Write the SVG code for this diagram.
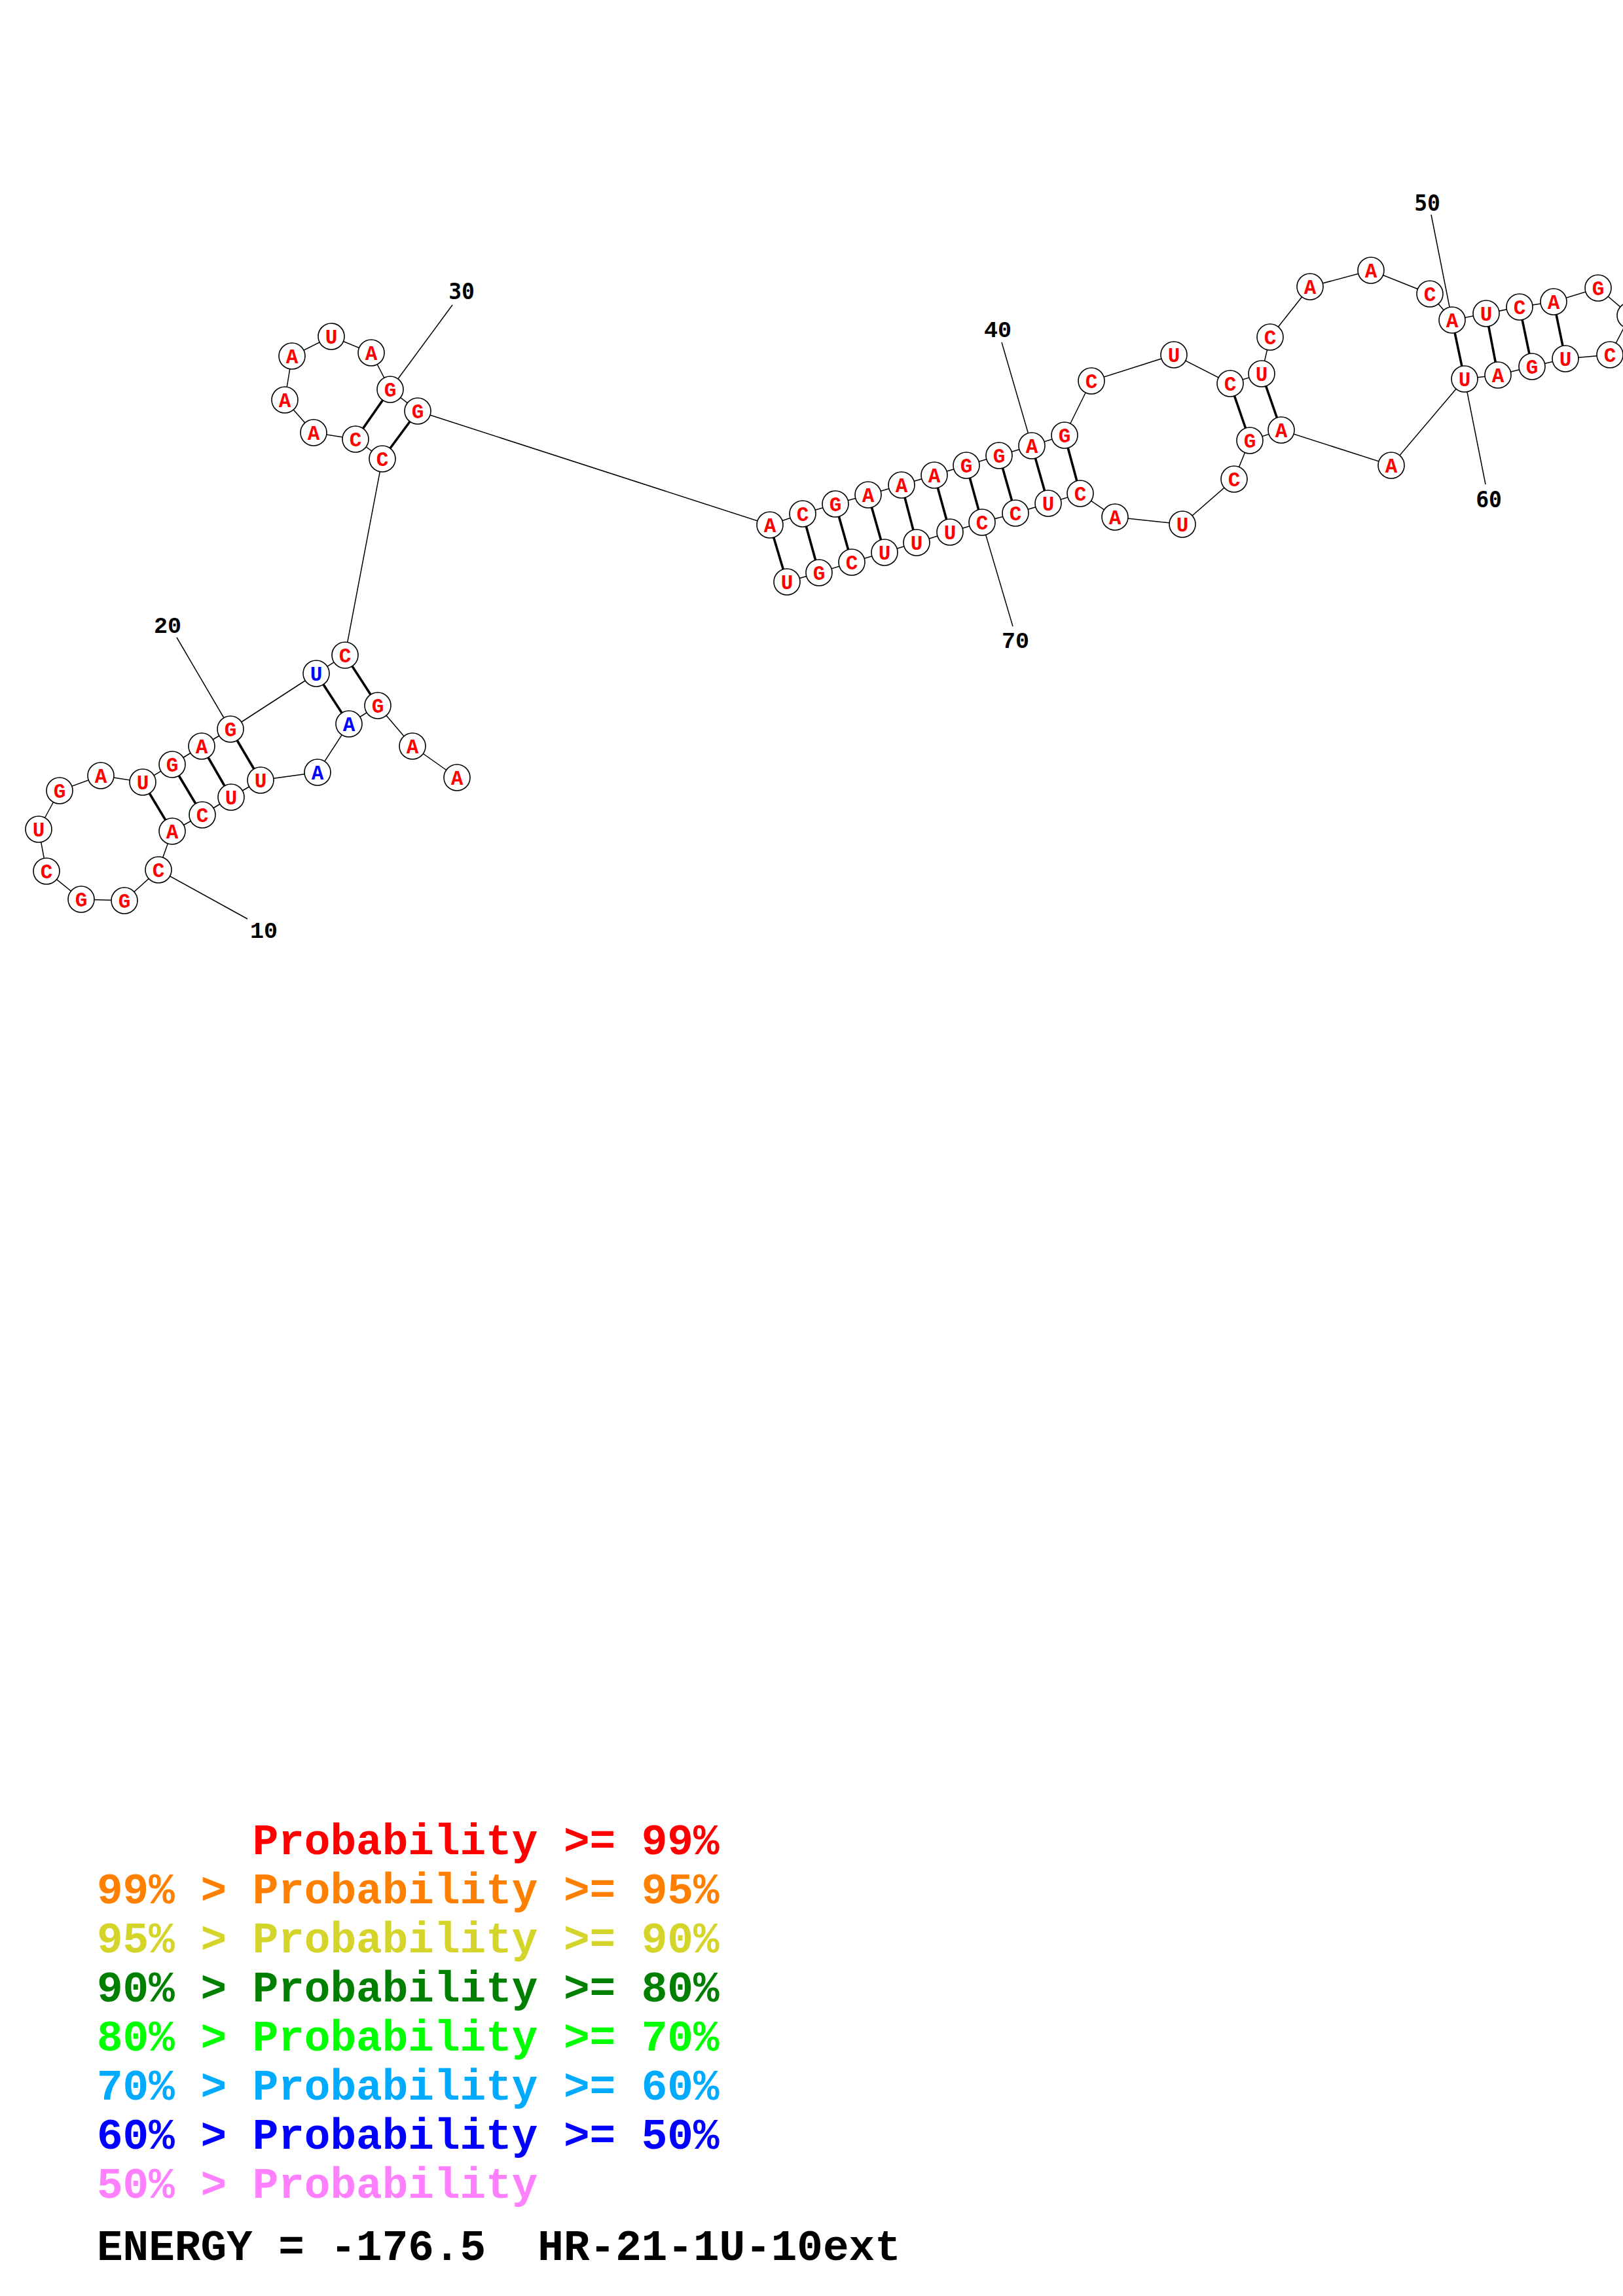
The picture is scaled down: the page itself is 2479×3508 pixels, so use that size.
<svg xmlns="http://www.w3.org/2000/svg" width="2479" height="3508" viewBox="0 0 2479 3508">
<style>
.bb{stroke:#000;stroke-width:1.5;fill:none}
.bp{stroke:#000;stroke-width:3.6;fill:none}
.tk{stroke:#000;stroke-width:1.5;fill:none}
circle{fill:#fff;stroke:#000;stroke-width:1.6}
.nl{font-family:"Liberation Mono",monospace;font-weight:bold;font-size:31px;text-anchor:middle;fill:#f00}
.bl{fill:#00f}
.num{font-family:"Liberation Mono",monospace;font-weight:bold;font-size:35px;text-anchor:middle;fill:#000}
.num2{font-family:"DejaVu Sans Mono",monospace;font-weight:bold;font-size:33px;text-anchor:middle;fill:#000}
.lg{font-family:"Liberation Mono",monospace;font-weight:bold;font-size:66px}
</style>
<rect width="2479" height="3508" fill="#fff"/>
<g id="connectors">
<polyline class="bb" points="698,1188 630,1140 577,1078 533,1106 485,1180 398,1192 353,1218 309,1245 263,1270 242,1329 190,1376 124,1374 71,1331 59,1267 91,1208 154,1185 218,1195 263,1168 308,1140 352,1114 483,1029 527,1001 584,701 543,671 479,661 435,611 446,544 506,514 567,539 596,595 638,628 1176,802 1226,785 1276,770 1326,756 1377,741 1427,726 1476,711 1526,696 1576,681 1626,665 1667,582 1793,542 1879,586 1927,571 1940,515 2001,438 2094,413 2184,449 2218,489 2270,479 2321,469 2373,461 2441,440 2490,482 2459,542 2391,548 2340,560 2288,573 2237,579 2125,711 1957,657 1909,673 1885,732 1806,801 1703,790 1650,754 1601,769 1551,784 1500,798 1451,813 1400,829 1351,844 1301,859 1251,875 1202,889"/>
<g class="bp">
<line x1="398" y1="1192" x2="352" y2="1114"/>
<line x1="353" y1="1218" x2="308" y2="1140"/>
<line x1="309" y1="1245" x2="263" y2="1168"/>
<line x1="263" y1="1270" x2="218" y2="1195"/>
<line x1="577" y1="1078" x2="527" y2="1001"/>
<line x1="533" y1="1106" x2="483" y2="1029"/>
<line x1="584" y1="701" x2="638" y2="628"/>
<line x1="543" y1="671" x2="596" y2="595"/>
<line x1="1176" y1="802" x2="1202" y2="889"/>
<line x1="1226" y1="785" x2="1251" y2="875"/>
<line x1="1276" y1="770" x2="1301" y2="859"/>
<line x1="1326" y1="756" x2="1351" y2="844"/>
<line x1="1377" y1="741" x2="1400" y2="829"/>
<line x1="1427" y1="726" x2="1451" y2="813"/>
<line x1="1476" y1="711" x2="1500" y2="798"/>
<line x1="1526" y1="696" x2="1551" y2="784"/>
<line x1="1576" y1="681" x2="1601" y2="769"/>
<line x1="1626" y1="665" x2="1650" y2="754"/>
<line x1="1879" y1="586" x2="1909" y2="673"/>
<line x1="1927" y1="571" x2="1957" y2="657"/>
<line x1="2218" y1="489" x2="2237" y2="579"/>
<line x1="2270" y1="479" x2="2288" y2="573"/>
<line x1="2321" y1="469" x2="2340" y2="560"/>
<line x1="2373" y1="461" x2="2391" y2="548"/>
</g>
<g class="tk">
<line x1="242" y1="1329" x2="378" y2="1404"/>
<line x1="352" y1="1114" x2="270" y2="974"/>
<line x1="596" y1="595" x2="691" y2="466"/>
<line x1="1576" y1="681" x2="1530" y2="523"/>
<line x1="2218" y1="489" x2="2186" y2="328"/>
<line x1="2237" y1="579" x2="2269" y2="740"/>
<line x1="1500" y1="798" x2="1547" y2="957"/>
</g>
</g>
<g id="n1"><circle cx="698" cy="1188" r="20"/><text class="nl" x="698" y="1199">A</text></g>
<g id="n2"><circle cx="630" cy="1140" r="20"/><text class="nl" x="630" y="1151">A</text></g>
<g id="n3"><circle cx="577" cy="1078" r="20"/><text class="nl" x="577" y="1089">G</text></g>
<g id="n4"><circle cx="533" cy="1106" r="20"/><text class="nl bl" x="533" y="1117">A</text></g>
<g id="n5"><circle cx="485" cy="1180" r="20"/><text class="nl bl" x="485" y="1191">A</text></g>
<g id="n6"><circle cx="398" cy="1192" r="20"/><text class="nl" x="398" y="1203">U</text></g>
<g id="n7"><circle cx="353" cy="1218" r="20"/><text class="nl" x="353" y="1229">U</text></g>
<g id="n8"><circle cx="309" cy="1245" r="20"/><text class="nl" x="309" y="1256">C</text></g>
<g id="n9"><circle cx="263" cy="1270" r="20"/><text class="nl" x="263" y="1281">A</text></g>
<g id="n10"><circle cx="242" cy="1329" r="20"/><text class="nl" x="242" y="1340">C</text></g>
<g id="n11"><circle cx="190" cy="1376" r="20"/><text class="nl" x="190" y="1387">G</text></g>
<g id="n12"><circle cx="124" cy="1374" r="20"/><text class="nl" x="124" y="1385">G</text></g>
<g id="n13"><circle cx="71" cy="1331" r="20"/><text class="nl" x="71" y="1342">C</text></g>
<g id="n14"><circle cx="59" cy="1267" r="20"/><text class="nl" x="59" y="1278">U</text></g>
<g id="n15"><circle cx="91" cy="1208" r="20"/><text class="nl" x="91" y="1219">G</text></g>
<g id="n16"><circle cx="154" cy="1185" r="20"/><text class="nl" x="154" y="1196">A</text></g>
<g id="n17"><circle cx="218" cy="1195" r="20"/><text class="nl" x="218" y="1206">U</text></g>
<g id="n18"><circle cx="263" cy="1168" r="20"/><text class="nl" x="263" y="1179">G</text></g>
<g id="n19"><circle cx="308" cy="1140" r="20"/><text class="nl" x="308" y="1151">A</text></g>
<g id="n20"><circle cx="352" cy="1114" r="20"/><text class="nl" x="352" y="1125">G</text></g>
<g id="n21"><circle cx="483" cy="1029" r="20"/><text class="nl bl" x="483" y="1040">U</text></g>
<g id="n22"><circle cx="527" cy="1001" r="20"/><text class="nl" x="527" y="1012">C</text></g>
<g id="n23"><circle cx="584" cy="701" r="20"/><text class="nl" x="584" y="712">C</text></g>
<g id="n24"><circle cx="543" cy="671" r="20"/><text class="nl" x="543" y="682">C</text></g>
<g id="n25"><circle cx="479" cy="661" r="20"/><text class="nl" x="479" y="672">A</text></g>
<g id="n26"><circle cx="435" cy="611" r="20"/><text class="nl" x="435" y="622">A</text></g>
<g id="n27"><circle cx="446" cy="544" r="20"/><text class="nl" x="446" y="555">A</text></g>
<g id="n28"><circle cx="506" cy="514" r="20"/><text class="nl" x="506" y="525">U</text></g>
<g id="n29"><circle cx="567" cy="539" r="20"/><text class="nl" x="567" y="550">A</text></g>
<g id="n30"><circle cx="596" cy="595" r="20"/><text class="nl" x="596" y="606">G</text></g>
<g id="n31"><circle cx="638" cy="628" r="20"/><text class="nl" x="638" y="639">G</text></g>
<g id="n32"><circle cx="1176" cy="802" r="20"/><text class="nl" x="1176" y="813">A</text></g>
<g id="n33"><circle cx="1226" cy="785" r="20"/><text class="nl" x="1226" y="796">C</text></g>
<g id="n34"><circle cx="1276" cy="770" r="20"/><text class="nl" x="1276" y="781">G</text></g>
<g id="n35"><circle cx="1326" cy="756" r="20"/><text class="nl" x="1326" y="767">A</text></g>
<g id="n36"><circle cx="1377" cy="741" r="20"/><text class="nl" x="1377" y="752">A</text></g>
<g id="n37"><circle cx="1427" cy="726" r="20"/><text class="nl" x="1427" y="737">A</text></g>
<g id="n38"><circle cx="1476" cy="711" r="20"/><text class="nl" x="1476" y="722">G</text></g>
<g id="n39"><circle cx="1526" cy="696" r="20"/><text class="nl" x="1526" y="707">G</text></g>
<g id="n40"><circle cx="1576" cy="681" r="20"/><text class="nl" x="1576" y="692">A</text></g>
<g id="n41"><circle cx="1626" cy="665" r="20"/><text class="nl" x="1626" y="676">G</text></g>
<g id="n42"><circle cx="1667" cy="582" r="20"/><text class="nl" x="1667" y="593">C</text></g>
<g id="n43"><circle cx="1793" cy="542" r="20"/><text class="nl" x="1793" y="553">U</text></g>
<g id="n44"><circle cx="1879" cy="586" r="20"/><text class="nl" x="1879" y="597">C</text></g>
<g id="n45"><circle cx="1927" cy="571" r="20"/><text class="nl" x="1927" y="582">U</text></g>
<g id="n46"><circle cx="1940" cy="515" r="20"/><text class="nl" x="1940" y="526">C</text></g>
<g id="n47"><circle cx="2001" cy="438" r="20"/><text class="nl" x="2001" y="449">A</text></g>
<g id="n48"><circle cx="2094" cy="413" r="20"/><text class="nl" x="2094" y="424">A</text></g>
<g id="n49"><circle cx="2184" cy="449" r="20"/><text class="nl" x="2184" y="460">C</text></g>
<g id="n50"><circle cx="2218" cy="489" r="20"/><text class="nl" x="2218" y="500">A</text></g>
<g id="n51"><circle cx="2270" cy="479" r="20"/><text class="nl" x="2270" y="490">U</text></g>
<g id="n52"><circle cx="2321" cy="469" r="20"/><text class="nl" x="2321" y="480">C</text></g>
<g id="n53"><circle cx="2373" cy="461" r="20"/><text class="nl" x="2373" y="472">A</text></g>
<g id="n54"><circle cx="2441" cy="440" r="20"/><text class="nl" x="2441" y="451">G</text></g>
<g id="n55"><circle cx="2490" cy="482" r="20"/><text class="nl" x="2490" y="493">U</text></g>
<g id="n56"><circle cx="2459" cy="542" r="20"/><text class="nl" x="2459" y="553">C</text></g>
<g id="n57"><circle cx="2391" cy="548" r="20"/><text class="nl" x="2391" y="559">U</text></g>
<g id="n58"><circle cx="2340" cy="560" r="20"/><text class="nl" x="2340" y="571">G</text></g>
<g id="n59"><circle cx="2288" cy="573" r="20"/><text class="nl" x="2288" y="584">A</text></g>
<g id="n60"><circle cx="2237" cy="579" r="20"/><text class="nl" x="2237" y="590">U</text></g>
<g id="n61"><circle cx="2125" cy="711" r="20"/><text class="nl" x="2125" y="722">A</text></g>
<g id="n62"><circle cx="1957" cy="657" r="20"/><text class="nl" x="1957" y="668">A</text></g>
<g id="n63"><circle cx="1909" cy="673" r="20"/><text class="nl" x="1909" y="684">G</text></g>
<g id="n64"><circle cx="1885" cy="732" r="20"/><text class="nl" x="1885" y="743">C</text></g>
<g id="n65"><circle cx="1806" cy="801" r="20"/><text class="nl" x="1806" y="812">U</text></g>
<g id="n66"><circle cx="1703" cy="790" r="20"/><text class="nl" x="1703" y="801">A</text></g>
<g id="n67"><circle cx="1650" cy="754" r="20"/><text class="nl" x="1650" y="765">C</text></g>
<g id="n68"><circle cx="1601" cy="769" r="20"/><text class="nl" x="1601" y="780">U</text></g>
<g id="n69"><circle cx="1551" cy="784" r="20"/><text class="nl" x="1551" y="795">C</text></g>
<g id="n70"><circle cx="1500" cy="798" r="20"/><text class="nl" x="1500" y="809">C</text></g>
<g id="n71"><circle cx="1451" cy="813" r="20"/><text class="nl" x="1451" y="824">U</text></g>
<g id="n72"><circle cx="1400" cy="829" r="20"/><text class="nl" x="1400" y="840">U</text></g>
<g id="n73"><circle cx="1351" cy="844" r="20"/><text class="nl" x="1351" y="855">U</text></g>
<g id="n74"><circle cx="1301" cy="859" r="20"/><text class="nl" x="1301" y="870">C</text></g>
<g id="n75"><circle cx="1251" cy="875" r="20"/><text class="nl" x="1251" y="886">G</text></g>
<g id="n76"><circle cx="1202" cy="889" r="20"/><text class="nl" x="1202" y="900">U</text></g>
<g id="labels">
<text class="num" x="403" y="1433">10</text>
<text class="num" x="256" y="967">20</text>
<text class="num2" x="705" y="457">30</text>
<text class="num" x="1524" y="515">40</text>
<text class="num2" x="2180" y="322">50</text>
<text class="num2" x="2274" y="775">60</text>
<text class="num" x="1551" y="990">70</text>
</g>
<g id="legend" class="lg">
<text x="148" y="2833" fill="#ff0000" xml:space="preserve">      Probability &gt;= 99%</text>
<text x="148" y="2908" fill="#ff8000">99% &gt; Probability &gt;= 95%</text>
<text x="148" y="2983" fill="#d4d42a">95% &gt; Probability &gt;= 90%</text>
<text x="148" y="3058" fill="#007f00">90% &gt; Probability &gt;= 80%</text>
<text x="148" y="3133" fill="#00ff00">80% &gt; Probability &gt;= 70%</text>
<text x="148" y="3208" fill="#00aaff">70% &gt; Probability &gt;= 60%</text>
<text x="148" y="3283" fill="#0000ff">60% &gt; Probability &gt;= 50%</text>
<text x="148" y="3358" fill="#ff80ff">50% &gt; Probability</text>
<text x="148" y="3453" fill="#000" xml:space="preserve">ENERGY = -176.5  HR-21-1U-10ext</text>
</g>
</svg>
